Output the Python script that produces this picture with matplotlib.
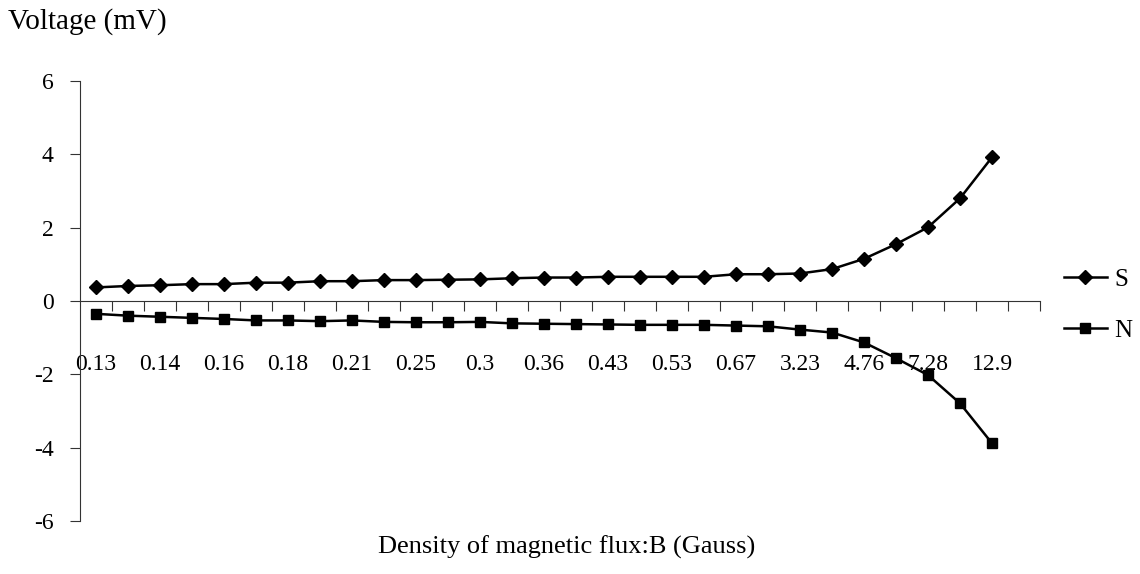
import matplotlib
matplotlib.use("Agg")
import matplotlib.pyplot as plt
import numpy as np

# x categories: only every other category is labelled on the original axis
shown_labels = ['0.13', '0.14', '0.16', '0.18', '0.21', '0.25', '0.3', '0.36',
                '0.43', '0.53', '0.67', '3.23', '4.76', '7.28', '12.9']

s_values = [0.37, 0.41, 0.43, 0.46, 0.46, 0.50, 0.50, 0.54, 0.54, 0.57,
            0.57, 0.58, 0.59, 0.62, 0.64, 0.64, 0.66, 0.66, 0.66, 0.66,
            0.73, 0.73, 0.75, 0.87, 1.15, 1.55, 2.01, 2.80, 3.92]
n_values = [-0.35, -0.40, -0.43, -0.46, -0.49, -0.53, -0.53, -0.55, -0.53, -0.57,
            -0.58, -0.58, -0.57, -0.61, -0.62, -0.63, -0.64, -0.65, -0.65, -0.65,
            -0.67, -0.69, -0.78, -0.86, -1.13, -1.56, -2.02, -2.79, -3.88]

plt.rcParams['font.family'] = ['Liberation Serif', 'DejaVu Serif']
plt.rcParams['axes.unicode_minus'] = False

fig = plt.figure(figsize=(11.4, 5.74), dpi=100)
ax = fig.add_axes([80/1140, 1 - 521/574, 960/1140, 440/574])

x = np.arange(len(s_values))
n_slots = len(s_values) + 1  # the original axis has one empty slot at the end

ax.plot(x, s_values, color='black', lw=1.8, marker='D', ms=7.5, label='S')
ax.plot(x, n_values, color='black', lw=1.8, marker='s', ms=7.5, label='N')

ax.set_xlim(-0.5, n_slots - 0.5)
ax.set_ylim(-6, 6)
ax.set_axisbelow(True)

for side in ['top', 'right']:
    ax.spines[side].set_visible(False)
ax.spines['bottom'].set_position(('data', 0))
ax.spines['bottom'].set_color('#333333')
ax.spines['bottom'].set_linewidth(0.8)
ax.spines['left'].set_color('#333333')
ax.spines['left'].set_linewidth(0.8)

# category boundaries get tick marks, labels sit on every other category
ax.set_xticks(np.arange(0.5, n_slots, 1))
ax.set_xticklabels([])
ax.tick_params(axis='x', which='major', direction='out', length=7, width=0.8, color='#333333')
ax.set_xticks(np.arange(0, len(s_values), 2), minor=True)
ax.set_xticklabels(shown_labels, minor=True)
ax.tick_params(axis='x', which='minor', length=0, pad=38, labelsize=17)

ax.set_yticks(np.arange(-6, 7, 2))
ax.tick_params(axis='y', direction='out', length=7, width=0.8, color='#333333',
               pad=12, labelsize=17)

fig.text(8/1140, 1 - 22/574, 'Voltage (mV)', fontsize=21, ha='left', va='center')
fig.text(567/1140, 1 - 547/574, 'Density of magnetic flux:B (Gauss)', fontsize=19,
         ha='center', va='center')

ax.legend(loc='center left', bbox_to_anchor=(1064/1140, 1 - 305/574),
          bbox_transform=fig.transFigure, frameon=False, fontsize=18,
          borderpad=0, borderaxespad=0,
          handlelength=1.7, handletextpad=0.3, labelspacing=1.15)

fig.savefig('out.png', dpi=100)
